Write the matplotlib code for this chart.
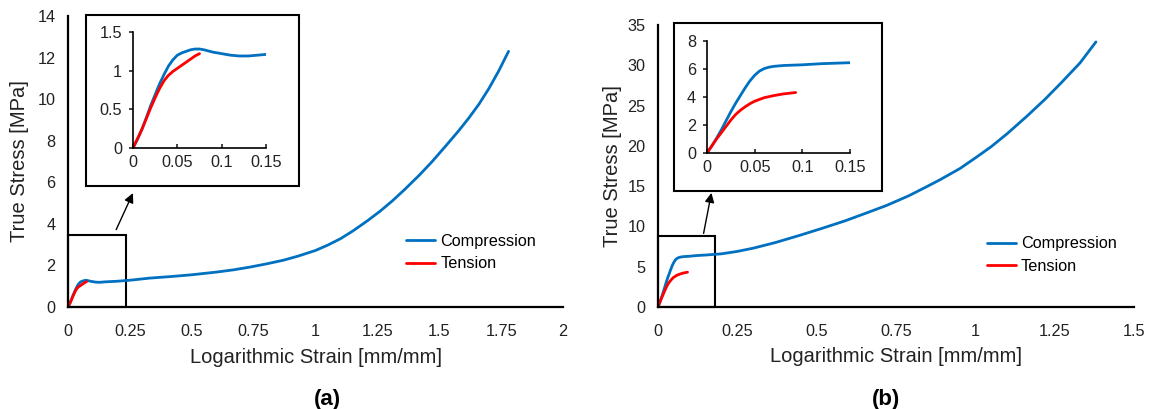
import numpy as np
import matplotlib
matplotlib.use("Agg")
import matplotlib.pyplot as plt
from matplotlib.patches import Rectangle

plt.rcParams['font.family'] = ['Liberation Sans', 'DejaVu Sans']

# (a) stress-strain data
a_comp_x = [0, 0.005, 0.01, 0.015, 0.02, 0.025, 0.03, 0.035, 0.04, 0.045, 0.05, 0.055, 0.06,
            0.065, 0.07, 0.075, 0.08, 0.085, 0.09, 0.1, 0.11, 0.12, 0.13, 0.14, 0.15,
            0.2, 0.26, 0.33, 0.41, 0.5, 0.6, 0.67, 0.735, 0.8, 0.87, 0.93, 1.0, 1.05, 1.1,
            1.15, 1.21, 1.26, 1.31, 1.36, 1.42, 1.47, 1.53, 1.58, 1.62, 1.66, 1.7, 1.74, 1.78]
a_comp_y = [0, 0.11, 0.24, 0.39, 0.55, 0.69, 0.83, 0.95, 1.06, 1.14, 1.2, 1.23, 1.25,
            1.27, 1.28, 1.28, 1.27, 1.255, 1.24, 1.22, 1.2, 1.19, 1.19, 1.2, 1.21,
            1.24, 1.3, 1.39, 1.46, 1.55, 1.68, 1.79, 1.92, 2.07, 2.25, 2.45, 2.72, 2.98, 3.28,
            3.65, 4.15, 4.6, 5.1, 5.65, 6.35, 6.98, 7.8, 8.5, 9.1, 9.75, 10.5, 11.35, 12.3]
a_tens_x = [0, 0.005, 0.01, 0.015, 0.02, 0.025, 0.03, 0.035, 0.04, 0.045, 0.05, 0.055,
            0.06, 0.065, 0.07, 0.075]
a_tens_y = [0, 0.12, 0.24, 0.38, 0.52, 0.65, 0.77, 0.87, 0.94, 0.99, 1.03, 1.07,
            1.11, 1.15, 1.19, 1.22]

# (b) stress-strain data
b_comp_x = [0, 0.005, 0.01, 0.015, 0.02, 0.025, 0.03, 0.035, 0.04, 0.045, 0.05, 0.055, 0.06,
            0.065, 0.07, 0.08, 0.1, 0.12, 0.15, 0.2, 0.25, 0.3, 0.37, 0.447, 0.52, 0.59,
            0.659, 0.72, 0.79, 0.85, 0.889, 0.952, 1.0, 1.05, 1.1, 1.163, 1.22, 1.27, 1.33, 1.38]
b_comp_y = [0, 0.5, 1.05, 1.65, 2.3, 2.95, 3.55, 4.1, 4.65, 5.15, 5.55, 5.85, 6.03,
            6.13, 6.19, 6.25, 6.3, 6.38, 6.45, 6.6, 6.9, 7.3, 8.0, 8.9, 9.8, 10.7,
            11.7, 12.6, 13.8, 15.0, 15.8, 17.2, 18.5, 19.9, 21.5, 23.7, 25.8, 27.8, 30.3, 32.9]
b_tens_x = [0, 0.005, 0.01, 0.015, 0.02, 0.025, 0.03, 0.035, 0.04, 0.045, 0.05, 0.06,
            0.07, 0.08, 0.093]
b_tens_y = [0, 0.5, 1.0, 1.45, 1.9, 2.35, 2.75, 3.05, 3.3, 3.52, 3.7, 3.95,
            4.1, 4.22, 4.32]

blue = '#0070C0'
red = '#FF0000'
W, H = 1152, 409

fig = plt.figure(figsize=(W / 100, H / 100), dpi=100)


def px(x0, y0, x1, y1):
    # pixel box -> figure fraction rect
    return [x0 / W, 1 - y1 / H, (x1 - x0) / W, (y1 - y0) / H]


def style_main(ax, xmax, ymax, xticks, yticks):
    ax.set_xlim(0, xmax)
    ax.set_ylim(0, ymax)
    ax.set_xticks(xticks)
    ax.set_yticks(yticks)
    ax.set_xticklabels([f'{t:g}' for t in xticks])
    ax.set_yticklabels([f'{t:g}' for t in yticks])
    for s in ['top', 'right']:
        ax.spines[s].set_visible(False)
    for s in ['left', 'bottom']:
        ax.spines[s].set_linewidth(1.6)
    ax.tick_params(length=0, labelsize=11.7, colors='#222222')
    ax.tick_params(axis='x', pad=12)
    ax.tick_params(axis='y', pad=9)
    ax.set_xlabel('Logarithmic Strain [mm/mm]', fontsize=14.5, color='#222222')
    ax.set_ylabel('True Stress [MPa]', fontsize=14.5, color='#222222')
    ax.xaxis.label.set_va('center')
    ax.yaxis.label.set_va('center')


def style_inset(ax, ymax, yticks):
    ax.set_xlim(0, 0.15)
    ax.set_ylim(0, ymax)
    ax.set_xticks([0, 0.05, 0.1, 0.15])
    ax.set_xticklabels(['0', '0.05', '0.1', '0.15'])
    ax.set_yticks(yticks)
    ax.set_yticklabels([f'{t:g}' for t in yticks])
    ax.patch.set_alpha(0)
    for s in ['top', 'right']:
        ax.spines[s].set_visible(False)
    for s in ['left', 'bottom']:
        ax.spines[s].set_linewidth(1.2)
    ax.tick_params(labelsize=11.7, colors='#222222', length=3, width=1.2)
    ax.tick_params(axis='x', direction='in', pad=5)
    ax.tick_params(axis='y', direction='out', pad=5)


line_kw = dict(lw=2, solid_joinstyle='round', solid_capstyle='round')

# ---- panel (a)
axa = fig.add_axes(px(68, 16, 563, 307))
axa.plot(a_comp_x, a_comp_y, color=blue, label='Compression', **line_kw)
axa.plot(a_tens_x, a_tens_y, color=red, label='Tension', **line_kw)
style_main(axa, 2, 14, [0, 0.25, 0.5, 0.75, 1, 1.25, 1.5, 1.75, 2], list(range(0, 15, 2)))
axa.xaxis.set_label_coords(0.5, -0.172)
axa.yaxis.set_label_coords(-0.097, 0.5)
axa.add_patch(Rectangle((0, 0), 0.234, 3.46, fill=False, lw=1.5, ec='black', clip_on=False))
axa.annotate('', xy=(0.267, 5.6), xytext=(0.19, 3.6),
             arrowprops=dict(arrowstyle='-|>', color='black', lw=1, mutation_scale=14))
axa.legend(loc='center left', bbox_to_anchor=(0.683, 0.187), frameon=False, fontsize=11.7,
           handlelength=1.8, handletextpad=0.3, labelspacing=0.45, borderpad=0, borderaxespad=0)

box_a = Rectangle((86 / W, 1 - 186 / H), 213 / W, 171 / H, transform=fig.transFigure,
                  fill=True, fc='white', ec='black', lw=1.5, zorder=2)
fig.add_artist(box_a)
insa = fig.add_axes(px(133, 32, 266, 148))
insa.set_zorder(3)
insa.plot(a_comp_x, a_comp_y, color=blue, **line_kw)
insa.plot(a_tens_x, a_tens_y, color=red, **line_kw)
style_inset(insa, 1.5, [0, 0.5, 1, 1.5])

# ---- panel (b)
axb = fig.add_axes(px(658, 25, 1134, 307))
axb.plot(b_comp_x, b_comp_y, color=blue, label='Compression', **line_kw)
axb.plot(b_tens_x, b_tens_y, color=red, label='Tension', **line_kw)
style_main(axb, 1.5, 35, [0, 0.25, 0.5, 0.75, 1, 1.25, 1.5], list(range(0, 36, 5)))
axb.xaxis.set_label_coords(0.5, -0.174)
axb.yaxis.set_label_coords(-0.0966, 0.5)
axb.add_patch(Rectangle((0, 0), 0.18, 8.8, fill=False, lw=1.5, ec='black', clip_on=False))
axb.annotate('', xy=(0.17, 14.5), xytext=(0.142, 8.8),
             arrowprops=dict(arrowstyle='-|>', color='black', lw=1, mutation_scale=14))
axb.legend(loc='center left', bbox_to_anchor=(0.691, 0.184), frameon=False, fontsize=11.7,
           handlelength=1.8, handletextpad=0.3, labelspacing=0.45, borderpad=0, borderaxespad=0)

box_b = Rectangle((674 / W, 1 - 191 / H), 208 / W, 168 / H, transform=fig.transFigure,
                  fill=True, fc='white', ec='black', lw=1.5, zorder=2)
fig.add_artist(box_b)
insb = fig.add_axes(px(707, 41, 850, 153))
insb.set_zorder(3)
insb.plot(b_comp_x, b_comp_y, color=blue, **line_kw)
insb.plot(b_tens_x, b_tens_y, color=red, **line_kw)
style_inset(insb, 8, [0, 2, 4, 6, 8])

fig.text(327 / W, 1 - 399 / H, '(a)', ha='center', va='center', fontsize=16, fontweight='bold')
fig.text(886 / W, 1 - 399 / H, '(b)', ha='center', va='center', fontsize=16, fontweight='bold')

fig.savefig('out.png', dpi=100)
